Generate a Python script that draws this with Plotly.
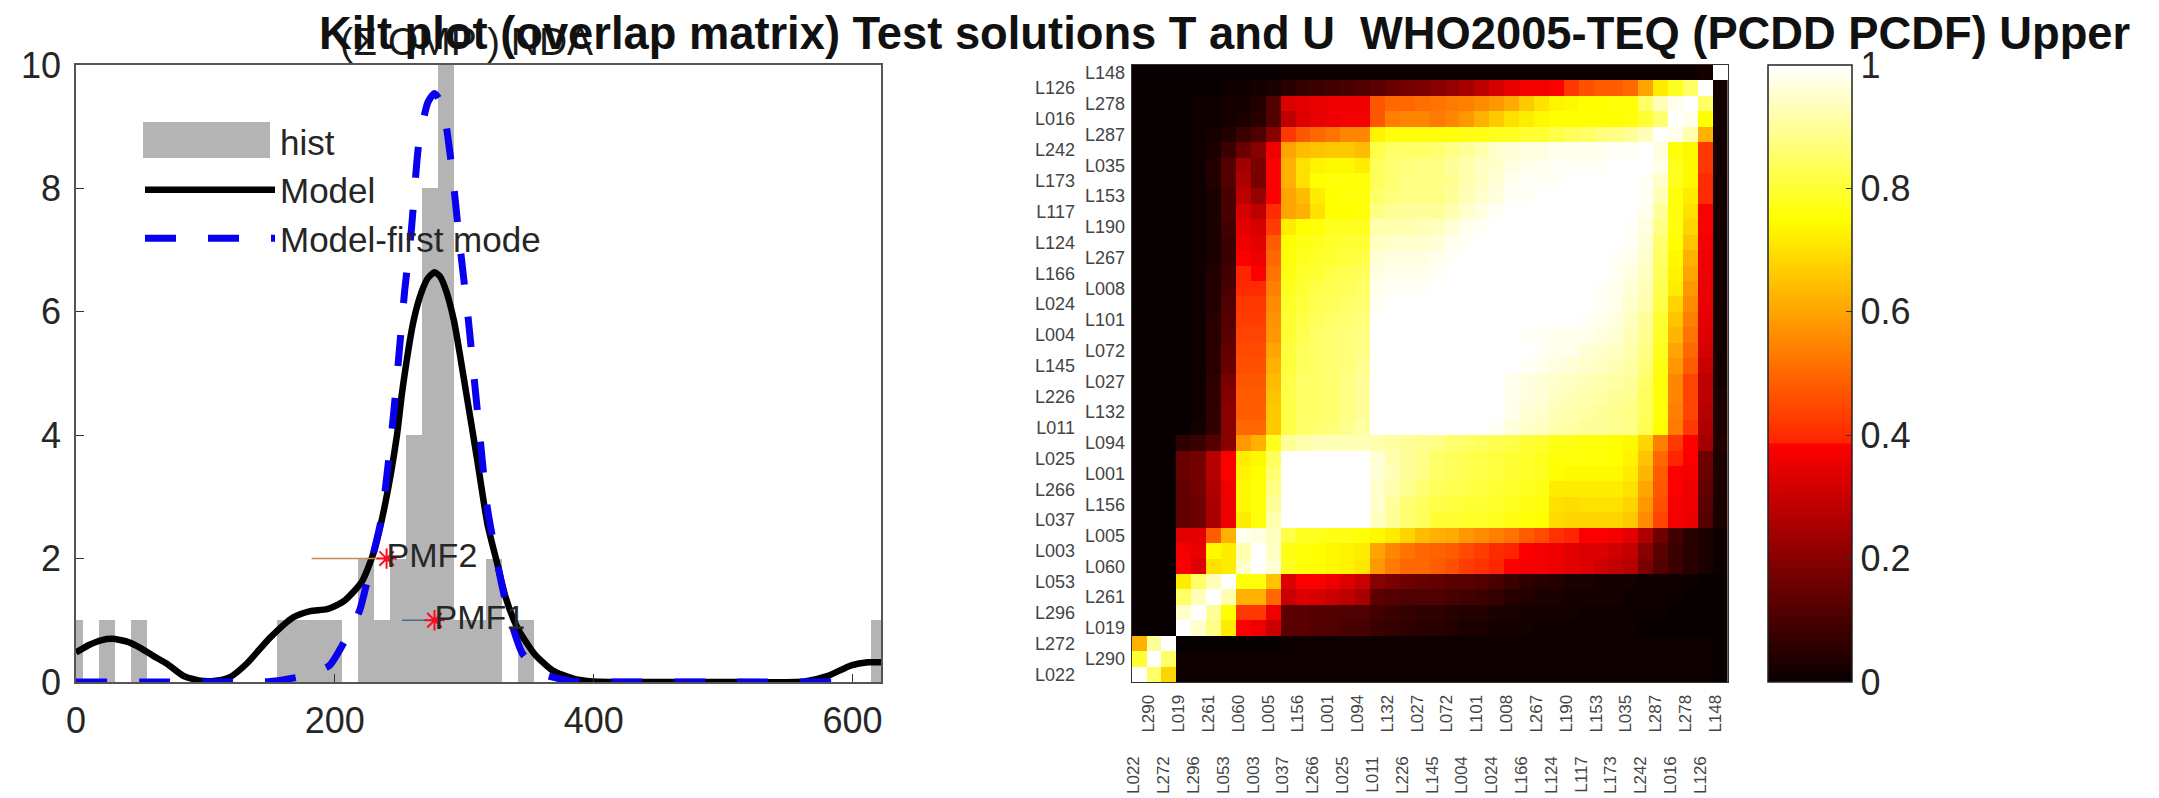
import numpy as np
import plotly.graph_objects as go

W, H = 2159, 798
ML, MR, MT, MB = 76, 159, 65, 116
PW, PH = W - ML - MR, H - MT - MB

# ---------- left panel data ----------
hist_centers = [-0.6, 24.2, 49.0, 161.8, 174.2, 186.6, 199.0, 223.8, 236.2, 248.6, 261.0, 273.4, 285.8, 298.2, 310.6, 323.0, 347.8, 620.6]
hist_counts  = [1, 1, 1, 1, 1, 1, 1, 2, 1, 2, 4, 8, 10, 1, 1, 2, 1, 1]
hist_width = 12.4

model_x = [0, 10, 20, 28, 40, 50, 60, 70, 83, 96, 108, 119, 132, 150, 168, 181, 194, 207, 221, 230, 239, 248, 252, 261, 267.5, 272, 277, 281, 285, 292, 301, 310, 318, 325, 332, 341, 354, 368, 385, 399, 450, 500, 563, 581, 599, 612, 622]
model_y = [0.48, 0.6, 0.68, 0.7, 0.65, 0.55, 0.42, 0.3, 0.1, 0.02, 0.02, 0.08, 0.3, 0.72, 1.05, 1.15, 1.18, 1.31, 1.63, 2.1, 2.9, 4.0, 4.7, 5.87, 6.35, 6.55, 6.64, 6.58, 6.4, 5.86, 4.75, 3.6, 2.55, 1.96, 1.37, 0.88, 0.46, 0.19, 0.05, 0.01, 0, 0, 0.01, 0.1, 0.27, 0.32, 0.32]
first_x = [0, 50, 100, 150, 172, 185, 196, 207, 219, 230, 236, 245, 254, 259, 265, 272, 277, 283, 290, 296, 303, 312, 318, 332, 345, 361, 385, 400, 500, 608]
first_y = [0, 0, 0, 0.01, 0.08, 0.16, 0.27, 0.64, 1.15, 2.1, 2.65, 4.26, 6.35, 7.3, 8.75, 9.4, 9.54, 9.35, 8.4, 7.2, 5.9, 4.0, 2.8, 1.3, 0.46, 0.13, 0.01, 0, 0, 0]
pmf2_x, pmf2_y = [182, 240], [2, 2]
pmf1_x, pmf1_y = [252, 277], [1, 1]

# ---------- right panel data ----------
labels = ["L022","L290","L272","L019","L296","L261","L053","L060","L003","L005",
          "L037","L156","L266","L001","L025","L094","L011","L132","L226","L027",
          "L145","L072","L004","L101","L024","L008","L166","L267","L124","L190",
          "L117","L153","L173","L035","L242","L287","L016","L278","L126","L148"]
# overlap in percent; first row is L148 (top), last row is L022 (bottom)
overlap_pct = [
[0,0,0,0,0,0,0,0,0,0, 1,1,1,1,1,1,1,1,1,1, 1,1,1,1,1,1,1,1,1,1, 1,1,1,1,1,1,1,1,2,100],
[0,0,0,0,0,0,1,1,2,3, 5,7,8,9,10,11,13,15,17,18, 20,22,25,28,32,35,37,37,38,42, 46,48,48,50,60,72,78,85,100,2],
[0,0,0,0,1,1,2,2,4,12, 33,34,35,36,36,36,47,50,50,51, 52,53,54,56,58,61,66,70,73,74, 75,75,76,76,85,93,98,100,85,2],
[0,0,0,0,1,1,2,3,5,12, 28,33,35,36,37,37,47,54,55,55, 53,55,58,62,66,70,72,74,75,75, 75,75,75,76,80,86,100,98,75,2],
[0,0,0,0,1,2,4,8,11,20, 42,47,50,52,55,55,73,76,76,76, 76,76,77,77,78,78,80,80,82,84, 85,87,88,90,93,100,98,92,62,2],
[0,0,0,0,1,3,8,15,20,36, 60,64,65,66,66,64,82,85,85,85, 86,88,90,92,95,96,97,97,98,98, 98,98,99,99,100,97,76,74,42,2],
[0,0,0,0,1,4,12,24,18,38, 62,70,73,74,74,72,84,86,87,88, 88,90,92,94,95,97,98,98,99,99, 99,99,100,100,100,98,78,74,42,2],
[0,0,0,0,1,4,12,26,18,38, 62,70,75,76,76,76,84,86,88,88, 88,89,92,94,96,98,99,99,99,100, 100,100,100,100,99,95,78,74,40,2],
[0,0,0,0,1,3,10,28,22,38, 60,64,72,75,76,76,85,87,88,88, 88,90,93,95,97,99,99,100,100,100, 100,100,100,100,99,93,76,72,40,2],
[0,0,0,0,1,3,10,32,28,40, 60,62,70,75,75,76,88,90,90,90, 90,92,95,97,99,100,100,100,100,100, 100,100,100,100,98,90,76,70,38,2],
[0,0,0,0,1,3,9,34,32,43, 72,75,76,78,78,78,92,92,92,93, 94,96,98,99,100,100,100,100,100,100, 100,100,100,99,97,88,76,68,38,2],
[0,0,0,0,1,3,8,36,34,48, 75,77,78,79,80,80,94,95,95,95, 96,98,99,100,100,100,100,100,100,100, 100,100,100,99,96,86,75,65,37,2],
[0,0,0,0,1,3,8,38,36,50, 76,78,79,80,81,82,96,97,97,97, 98,99,100,100,100,100,100,100,100,100, 100,100,99,98,95,85,74,62,36,2],
[0,0,0,0,1,4,9,39,38,52, 77,79,80,82,83,84,97,98,98,98, 99,100,100,100,100,100,100,100,100,100, 100,100,99,97,94,84,73,60,36,2],
[0,0,0,0,1,4,10,40,40,54, 78,80,82,83,84,85,98,99,99,99, 100,100,100,100,100,100,100,100,100,100, 100,99,98,96,93,83,72,58,35,2],
[0,0,0,0,1,4,11,42,42,56, 79,81,83,84,85,86,99,100,100,100, 100,100,100,100,100,100,100,100,100,100, 100,99,98,95,92,82,68,56,35,2],
[0,0,0,0,1,5,12,43,43,57, 80,82,84,85,86,87,100,100,100,100, 100,100,100,100,100,100,100,100,100,100, 99,98,97,94,90,80,65,54,34,2],
[0,0,0,0,1,5,13,44,44,58, 80,83,85,86,87,88,100,100,100,100, 100,100,100,100,100,100,99,99,98,98, 98,97,96,93,89,79,63,52,33,2],
[0,0,0,0,1,5,14,45,45,60, 81,84,85,86,87,88,100,100,100,100, 100,100,100,100,100,100,100,99,98,98, 96,95,94,92,88,78,60,50,32,2],
[0,0,0,0,1,5,15,46,46,62, 81,84,85,86,87,89,100,100,100,100, 100,100,100,100,100,100,99,98,97,96, 95,94,93,91,87,77,58,48,30,2],
[0,0,0,0,1,6,18,47,47,64, 82,85,85,86,88,90,100,100,100,100, 100,100,100,100,100,98,97,96,95,94, 93,92,91,90,85,76,55,44,28,2],
[0,0,0,0,1,6,19,48,48,65, 82,85,85,86,88,90,100,100,100,100, 100,100,100,100,100,98,97,96,94,93, 92,91,90,89,84,76,55,44,28,3],
[0,0,0,0,1,6,20,48,48,66, 82,85,85,86,88,90,100,100,100,100, 100,100,100,100,100,98,96,95,93,92, 91,90,89,88,84,76,54,44,27,3],
[0,0,0,0,2,6,20,50,50,66, 82,85,86,87,89,91,100,100,100,100, 100,100,100,100,99,97,95,94,92,91, 90,90,89,88,83,75,53,42,26,3],
[0,0,0,6,8,12,20,58,62,78, 90,92,93,93,93,93,92,91,90,89, 88,86,85,84,83,82,80,79,77,77, 76,76,75,74,68,54,42,38,24,4],
[0,0,0,15,17,27,38,72,74,84, 100,100,100,100,100,100,96,92,90,88, 85,84,83,82,81,80,79,78,76,76, 76,76,75,73,65,50,39,38,16,3],
[0,0,0,15,17,27,38,73,75,86, 100,100,100,100,100,100,96,93,90,88, 85,84,83,82,81,80,79,78,75,74, 74,74,74,72,63,48,38,37,15,3],
[0,0,0,14,17,26,36,74,76,88, 100,100,100,100,100,100,95,92,89,86, 84,83,82,81,80,79,78,77,72,72, 72,72,72,70,60,47,38,36,14,3],
[0,0,0,14,16,25,36,74,76,90, 100,100,100,100,100,100,95,90,86,84, 82,81,80,80,79,78,77,76,70,69, 70,70,70,68,58,46,37,36,13,3],
[0,0,0,14,16,25,36,72,76,92, 100,100,100,100,100,100,94,90,86,84, 80,80,79,79,78,77,76,75,69,68, 68,68,68,66,56,44,37,35,12,3],
[0,0,0,34,34,48,62,98,97,94, 82,78,78,77,77,76,74,72,68,64, 62,61,58,56,54,52,48,45,41,39, 38,38,37,34,26,16,9,5,3,1],
[0,0,0,37,35,74,72,92,100,94, 77,76,75,74,73,72,60,55,52,50, 49,48,45,43,40,39,38,37,36,34, 33,33,31,29,20,13,8,5,3,1],
[0,0,0,38,33,70,72,95,100,96, 78,76,75,74,73,71,58,53,50,50, 48,46,43,41,39,38,37,37,36,34, 33,31,29,27,18,12,8,5,3,1],
[0,0,0,72,85,93,100,76,76,65, 33,38,38,36,33,30,20,18,16,15, 14,13,13,12,10,8,6,5,4,3, 3,2,2,2,1,1,1,1,0,0],
[0,0,0,85,93,100,92,62,62,50, 30,33,32,30,28,25,13,12,11,11, 11,10,9,8,7,5,4,3,3,2, 2,2,2,1,1,1,1,0,0,0],
[0,0,0,95,100,90,75,42,42,36, 13,13,12,12,11,11,9,8,7,6, 6,5,4,4,3,3,2,2,2,2, 1,1,1,1,1,1,0,0,0,0],
[0,0,0,100,95,88,72,38,36,30, 13,13,12,11,10,10,8,7,6,5, 5,4,3,3,2,2,2,1,1,1, 1,1,1,1,0,0,0,0,0,0],
[62,90,100,0,0,0,0,0,0,0, 1,1,1,1,1,1,1,1,1,1, 1,1,1,1,1,1,1,1,1,1, 1,1,1,1,1,1,1,1,1,0],
[80,100,85,1,1,1,1,1,1,1, 1,1,1,1,1,1,1,1,1,1, 1,1,1,1,1,1,1,1,1,1, 1,1,1,1,1,1,1,1,1,0],
[100,85,68,1,1,1,1,1,1,1, 1,1,1,1,1,1,1,1,1,1, 1,1,1,1,1,1,1,1,1,1, 1,1,1,1,1,1,1,1,1,0],
]
hot_scale = [[0, "#080000"], [0.385, "#ff0000"], [0.388, "#ff2400"], [0.75, "#ffff00"], [1, "#ffffff"]]
cbar_ticks = [0, 0.2, 0.4, 0.6, 0.8, 1]

FONT = "Liberation Sans, Arial, sans-serif"
INK = "#262626"
HIST = "#b4b4b4"

def fx(px):
    return (px - ML) / PW
def fy(px):
    return 1 - (px - MT) / PH

fig = go.Figure()

# left panel
fig.add_trace(go.Bar(x=hist_centers, y=hist_counts, width=hist_width, marker=dict(color=HIST, line=dict(width=0)),
                     showlegend=False, name="hist", xaxis="x", yaxis="y"))
fig.add_trace(go.Scatter(x=[None], y=[None], mode="lines", name="hist", line=dict(color="rgba(0,0,0,0)", width=1), xaxis="x", yaxis="y"))
fig.add_trace(go.Scatter(x=model_x, y=model_y, mode="lines", name="Model", cliponaxis=False,
                         line=dict(color="#000000", width=6.5, shape="spline", smoothing=0.6), xaxis="x", yaxis="y"))
fig.add_trace(go.Scatter(x=first_x, y=first_y, mode="lines", name="Model-first mode", cliponaxis=False,
                         line=dict(color="#0a00f0", width=7, dash="31px,32px", shape="spline", smoothing=0.6), xaxis="x", yaxis="y"))
fig.add_trace(go.Scatter(x=pmf2_x, y=pmf2_y, mode="lines", line=dict(color="#c08a5a", width=1.5), showlegend=False, xaxis="x", yaxis="y"))
fig.add_trace(go.Scatter(x=pmf1_x, y=pmf1_y, mode="lines", line=dict(color="#4a6d8c", width=1.5), showlegend=False, xaxis="x", yaxis="y"))
fig.add_trace(go.Scatter(x=[pmf2_x[1], pmf1_x[1]], y=[pmf2_y[1], pmf1_y[1]], mode="markers",
                         marker=dict(symbol="asterisk-open", size=17, color="#ff0a20", line=dict(color="#ff0a20", width=2)),
                         showlegend=False, xaxis="x", yaxis="y"))
fig.add_trace(go.Scatter(x=[pmf2_x[1], pmf1_x[1]], y=[pmf2_y[1], pmf1_y[1]], mode="text", text=["PMF2", "PMF1"], textposition="middle right",
                         textfont=dict(family=FONT, size=34, color=INK), showlegend=False, xaxis="x", yaxis="y"))

# right panel
z = np.array(overlap_pct, dtype=float) / 100
idx = list(range(len(labels)))
fig.add_trace(go.Heatmap(z=z[::-1], x=idx, y=idx, colorscale=hot_scale, zmin=0, zmax=1, xaxis="x2", yaxis="y2",
                         colorbar=dict(x=fx(1768), xanchor="left", xpad=0, thickness=84, thicknessmode="pixels",
                                       len=PH, lenmode="pixels", y=0, yanchor="bottom", ypad=0,
                                       outlinecolor="#222222", outlinewidth=1.5, tickvals=cbar_ticks,
                                       ticktext=["0", "0.2", "0.4", "0.6", "0.8", "1"],
                                       ticks="inside", ticklen=6, tickcolor="#333333",
                                       tickfont=dict(family=FONT, size=36, color=INK))))

NB = "\u00a0"
ytext = [t if i % 2 == 1 else t + NB * 10 for i, t in enumerate(labels)]
xtext = [t + NB * 13 if i % 2 == 0 else t for i, t in enumerate(labels)]

fig.update_layout(
    width=W, height=H, margin=dict(l=ML, r=MR, t=MT, b=MB, pad=0), paper_bgcolor="white", plot_bgcolor="white",
    autosize=False, bargap=0,
    font=dict(family=FONT, color=INK),
    legend=dict(x=fx(140), y=fy(112), xanchor="left", yanchor="top", bgcolor="rgba(0,0,0,0)", borderwidth=0,
                itemwidth=130, font=dict(family=FONT, size=35, color=INK), traceorder="normal"),
    shapes=[dict(type="rect", xref="paper", yref="paper", x0=fx(143), x1=fx(270), y0=fy(158), y1=fy(122),
                 fillcolor=HIST, line=dict(width=0), layer="above")],
    xaxis=dict(domain=[fx(76), fx(881)], range=[0, 622], tickvals=[0, 200, 400, 600], ticks="inside", ticklen=8, tickcolor="#333333",
               tickfont=dict(family=FONT, size=36, color=INK), showgrid=False, zeroline=False, automargin=False,
               showline=True, linecolor="#555555", linewidth=1.5, mirror=True, ticklabelstandoff=6),
    yaxis=dict(domain=[0, 1], range=[0, 10], tickvals=[0, 2, 4, 6, 8, 10], ticks="inside", ticklen=8, tickcolor="#333333",
               tickfont=dict(family=FONT, size=36, color=INK), showgrid=False, zeroline=False, automargin=False,
               showline=True, linecolor="#555555", linewidth=1.5, mirror=True, ticklabelstandoff=6),
    xaxis2=dict(domain=[fx(1131.6), fx(1728)], range=[-0.5, 39.5], tickvals=[i - 0.35 for i in idx], ticktext=xtext, tickangle=-90, ticks="",
                tickfont=dict(family=FONT, size=17, color="#444444"), showgrid=False, zeroline=False, anchor="y2", automargin=False,
                showline=True, linecolor="#333333", linewidth=1, mirror=True, ticklabelstandoff=5),
    yaxis2=dict(domain=[0, 1], range=[-0.5, 39.5], tickvals=idx, ticktext=ytext, ticks="",
                tickfont=dict(family=FONT, size=18, color="#444444"), showgrid=False, zeroline=False, anchor="x2", automargin=False,
                showline=True, linecolor="#333333", linewidth=1, mirror=True, ticklabelstandoff=2),
    annotations=[
        dict(text="(Σ OMP ) NDA", x=fx(466), y=fy(41), xref="paper", yref="paper", showarrow=False, xanchor="center", yanchor="middle",
             font=dict(family=FONT, size=39, color="#1a1a1a")),
        dict(text="<b>Kilt plot (overlap matrix) Test solutions T and U  WHO2005-TEQ (PCDD PCDF) Upper</b>",
             x=fx(1224), y=fy(33), xref="paper", yref="paper", showarrow=False, xanchor="center", yanchor="middle",
             font=dict(family=FONT, size=45.3, color="#111111")),
    ],
)
fig.write_html("out.html", post_script="document.body.style.margin='0';", config={"displayModeBar": False})
